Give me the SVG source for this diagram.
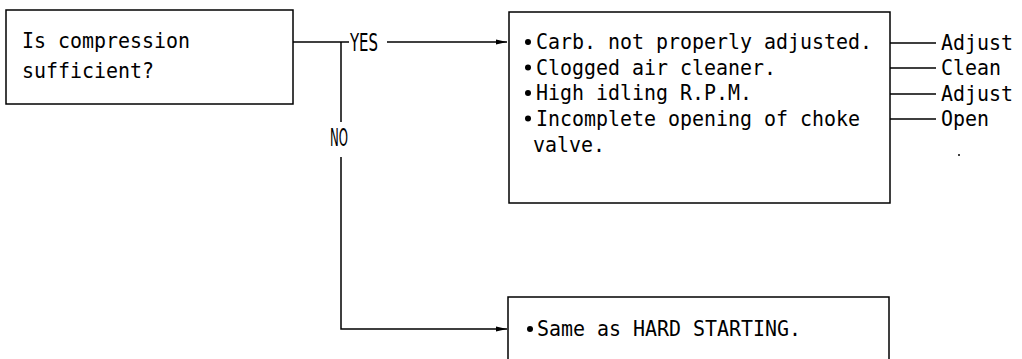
<svg xmlns="http://www.w3.org/2000/svg" width="1022" height="359" viewBox="0 0 1022 359">
<style>
.box{fill:#fff;stroke:#000;stroke-width:1.5}
.ln{fill:none;stroke:#000;stroke-width:1.5}
text{font-family:"DejaVu Sans Mono","Liberation Mono",monospace;font-size:22px;fill:#000}
.lbl{font-family:"DejaVu Sans Condensed","Liberation Sans",sans-serif;font-size:25px}
</style>
<defs>
<marker id="ah" markerWidth="12" markerHeight="8" refX="11" refY="4" orient="auto" markerUnits="userSpaceOnUse">
<path d="M0,1.5 L11,4 L0,6.5 Z" fill="#000"/>
</marker>
</defs>
<rect width="1022" height="359" fill="#fff"/>
<g id="connectors">
<path class="ln" d="M293,42 H349"/>
<path class="ln" d="M387,42 H507" marker-end="url(#ah)"/>
<path class="ln" d="M341,42 V122"/>
<path class="ln" d="M341,157 V329 H507" marker-end="url(#ah)"/>
<path class="ln" d="M890,43 H936 M890,68 H936 M890,94 H936 M890,119 H936"/>
<text class="lbl" x="350" y="51" textLength="28" lengthAdjust="spacingAndGlyphs">YES</text>
<text class="lbl" x="330" y="146" textLength="18" lengthAdjust="spacingAndGlyphs">NO</text>
</g>
<g id="q1">
<rect class="box" x="6" y="10" width="287" height="94"/>
<text x="22" y="48" textLength="168" lengthAdjust="spacingAndGlyphs">Is compression</text>
<text x="22" y="78" textLength="132" lengthAdjust="spacingAndGlyphs">sufficient?</text>
</g>
<g id="causes">
<rect class="box" x="509" y="12" width="381" height="191"/>
<circle cx="528" cy="42" r="3"/><circle cx="528" cy="67.5" r="3"/><circle cx="528" cy="93" r="3"/><circle cx="528" cy="118.5" r="3"/>
<text x="536" y="49" textLength="336" lengthAdjust="spacingAndGlyphs">Carb. not properly adjusted.</text>
<text x="536" y="75" textLength="240" lengthAdjust="spacingAndGlyphs">Clogged air cleaner.</text>
<text x="536" y="100" textLength="216" lengthAdjust="spacingAndGlyphs">High idling R.P.M.</text>
<text x="536" y="126" textLength="324" lengthAdjust="spacingAndGlyphs">Incomplete opening of choke</text>
<text x="533" y="152" textLength="72" lengthAdjust="spacingAndGlyphs">valve.</text>
</g>
<g id="remedies">
<text x="941" y="50" textLength="72" lengthAdjust="spacingAndGlyphs">Adjust</text>
<text x="941" y="75" textLength="60" lengthAdjust="spacingAndGlyphs">Clean</text>
<text x="941" y="101" textLength="72" lengthAdjust="spacingAndGlyphs">Adjust</text>
<text x="941" y="126" textLength="48" lengthAdjust="spacingAndGlyphs">Open</text>
<circle cx="959" cy="155" r="1"/>
</g>
<g id="same">
<rect class="box" x="508" y="297" width="381" height="70"/>
<circle cx="530" cy="329" r="3"/>
<text x="537" y="336" textLength="264" lengthAdjust="spacingAndGlyphs">Same as HARD STARTING.</text>
</g>
</svg>
